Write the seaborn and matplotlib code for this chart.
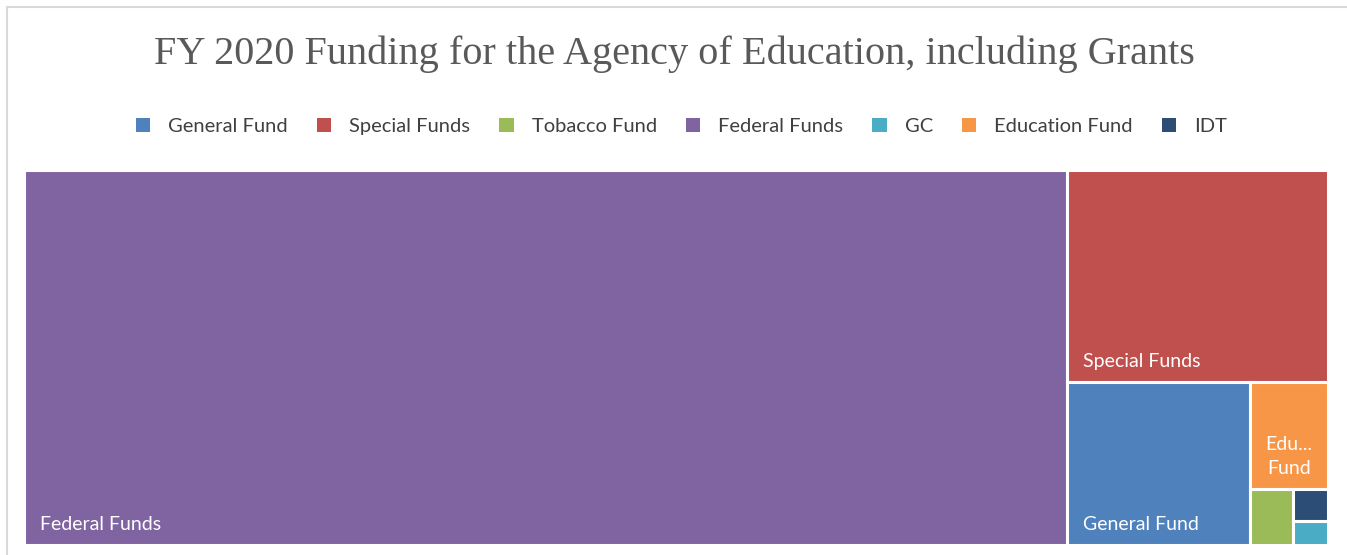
import seaborn as sns
import matplotlib.pyplot as plt
from matplotlib.patches import Patch, Rectangle

# FY 2020 funding by source ($ millions)
fund_names = ["General Fund", "Special Funds", "Tobacco Fund", "Federal Funds",
              "GC", "Education Fund", "IDT"]
fund_values = [29.9, 55.3, 2.4, 391.1, 0.85, 8.4, 1.1]
fund_colors = ["#4F81BD", "#C0504D", "#9BBB59", "#8064A2",
               "#4BACC6", "#F79646", "#2C4D75"]
# text shown inside the boxes (small boxes get none)
box_labels = {"Federal Funds": "Federal Funds", "Special Funds": "Special Funds",
              "General Fund": "General Fund", "Education Fund": "Edu...\nFund"}

W, H = 1304.0, 375.0


def worst(row, side):
    s = sum(row)
    return max(max(side * side * r / (s * s), s * s / (side * side * r)) for r in row)


def squarify(vals, x, y, dx, dy):
    # squarified treemap, vals already scaled to dx*dy and sorted desc
    rects = []
    vals = list(vals)
    while vals:
        side = min(dx, dy)
        row = [vals[0]]
        i = 1
        while i < len(vals) and worst(row + [vals[i]], side) <= worst(row, side):
            row.append(vals[i])
            i += 1
        s = sum(row)
        if dx >= dy:
            w = s / dy
            yy = y
            for r in row:
                rects.append((x, yy, w, r / w))
                yy += r / w
            x += w
            dx -= w
        else:
            h = s / dx
            xx = x
            for r in row:
                rects.append((xx, y, r / h, h))
                xx += r / h
            y += h
            dy -= h
        vals = vals[i:]
    return rects


order = sorted(range(len(fund_values)), key=lambda k: -fund_values[k])
total = sum(fund_values)
scaled = [fund_values[k] * W * H / total for k in order]
rects = squarify(scaled, 0, 0, W, H)

sns.set_theme(style="white")
fig = plt.figure(figsize=(13.47, 5.55), dpi=100)
ax = fig.add_axes([24 / 1347, 10 / 555, 1304 / 1347, 375 / 555])

for k, (x, y, w, h) in zip(order, rects):
    ax.bar(x, h, width=w, bottom=y, align="edge", color=fund_colors[k],
           edgecolor="white", linewidth=2.2)
    name = fund_names[k]
    if name in box_labels:
        if name == "Education Fund":
            ax.annotate(box_labels[name], (x + w / 2, y + h), xytext=(0, 12),
                        textcoords="offset pixels", ha="center", va="bottom",
                        color="white", fontsize=14, family="Lato", linespacing=1.5)
        else:
            ax.annotate(box_labels[name], (x, y + h), xytext=(16, 12),
                        textcoords="offset pixels", ha="left", va="bottom",
                        color="white", fontsize=14, family="Lato")

ax.set_xlim(0, W)
ax.set_ylim(H, 0)
ax.axis("off")

fig.text(0.501, 0.903, "FY 2020 Funding for the Agency of Education, including Grants",
         ha="center", va="center", fontsize=29, family="Liberation Serif",
         color="#595959")

handles = [Patch(facecolor=c, edgecolor="none") for c in fund_colors]
fig.legend(handles, fund_names, loc="center", bbox_to_anchor=(0.506, 0.772),
           ncol=7, frameon=False, handlelength=0.7, handleheight=0.7,
           handletextpad=0.9, columnspacing=1.45,
           prop={"family": "Lato", "size": 14.5}, labelcolor="#404040")

fig.patches.append(Rectangle((7 / 1347, -0.1), 1.2, 1.1 - 7 / 555,
                             transform=fig.transFigure, fill=False,
                             edgecolor="#D9D9D9", linewidth=1.5))

fig.savefig("out.png", dpi=100)
